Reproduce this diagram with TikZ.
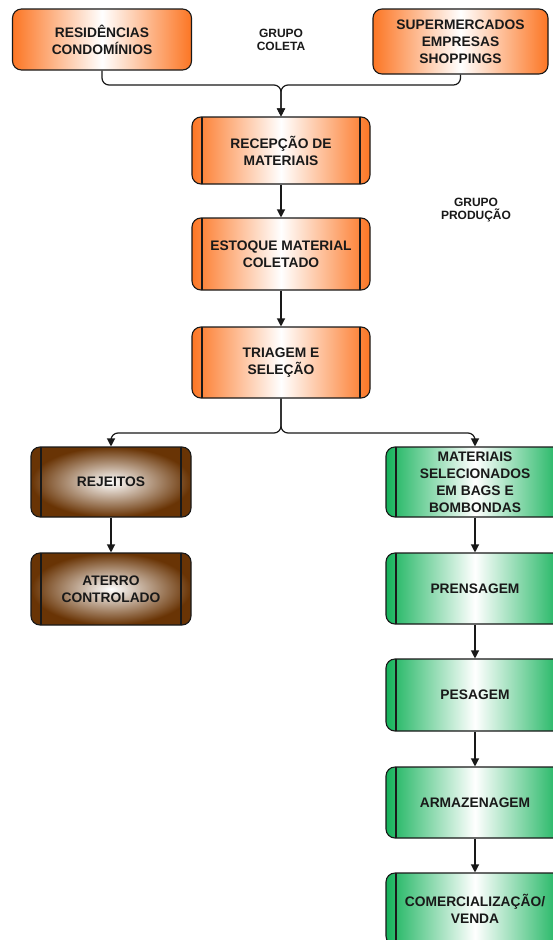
\documentclass[tikz,border=0pt]{standalone}
\usepackage{fontspec}
\setmainfont{Liberation Sans}
\usetikzlibrary{arrows.meta}
\definecolor{orng}{RGB}{252,118,36}
\definecolor{brn}{RGB}{105,52,5}
\definecolor{grn}{RGB}{20,178,90}
\definecolor{txt}{RGB}{25,25,25}
\tikzset{
  box/.style={draw=black!90, line width=1.1pt, rounded corners=9pt, inner sep=0pt,
    align=center, text=txt, font=\fontsize{13.8}{17}\selectfont\bfseries},
  orbox/.style={box, left color=orng, right color=orng, middle color=white},
  grbox/.style={box, left color=grn, right color=grn, middle color=white},
  brbox/.style={box, inner color=white, outer color=brn},
  bars/.style={path picture={
    \draw[line width=1.1pt, black!90] ([xshift=10pt]path picture bounding box.north west) -- ([xshift=10pt]path picture bounding box.south west);
    \draw[line width=1.1pt, black!90] ([xshift=-10pt]path picture bounding box.north east) -- ([xshift=-10pt]path picture bounding box.south east);}},
  conn/.style={line width=1.2pt, black!90, rounded corners=7pt},
  arr/.style={conn, -{Triangle[length=8pt,width=8pt]}},
  grp/.style={align=center, text=txt, font=\fontsize{12}{13.5}\selectfont\bfseries}
}
\begin{document}
\begin{tikzpicture}[x=1pt,y=-1pt]
\useasboundingbox (0,0) rectangle (553,940);
\node[orbox, minimum width=179pt, minimum height=61pt] (res) at (102,39.5) {RESIDÊNCIAS\\CONDOMÍNIOS};
\node[orbox, minimum width=175pt, minimum height=65pt] (sup) at (460.5,41.5) {SUPERMERCADOS\\EMPRESAS\\SHOPPINGS};
\node[grp] (gcol) at (281,40) {GRUPO\\COLETA};
\node[grp] (gprod) at (476,210) {GRUPO\\PRODUÇÃO};
\node[orbox, bars, minimum width=178pt, minimum height=67pt] (rec) at (281,150.5) {RECEPÇÃO DE\\MATERIAIS};
\node[orbox, bars, minimum width=178pt, minimum height=72pt] (est) at (281,254) {ESTOQUE MATERIAL\\COLETADO};
\node[orbox, bars, minimum width=178pt, minimum height=71pt] (tri) at (281,362.5) {TRIAGEM E\\SELEÇÃO};
\node[brbox, bars, minimum width=160pt, minimum height=70pt] (rej) at (111,482) {REJEITOS};
\node[brbox, bars, minimum width=160pt, minimum height=72pt] (ate) at (111,589) {ATERRO\\CONTROLADO};
\node[grbox, bars, minimum width=178pt, minimum height=70pt] (mat) at (475,482) {MATERIAIS\\SELECIONADOS\\EM BAGS E\\BOMBONDAS};
\node[grbox, bars, minimum width=178pt, minimum height=71pt] (pre) at (475,588.5) {PRENSAGEM};
\node[grbox, bars, minimum width=178pt, minimum height=72pt] (pes) at (475,695) {PESAGEM};
\node[grbox, bars, minimum width=178pt, minimum height=71pt] (arm) at (475,802.5) {ARMAZENAGEM};
\node[grbox, bars, minimum width=178pt, minimum height=72pt] (com) at (475,909) {COMERCIALIZAÇÃO/\\VENDA};
% connectors
\coordinate (j1) at (281,85);
\coordinate (j2) at (281,433);
\draw[arr] (res.south) |- (j1) -- (rec.north);
\draw[arr] (sup.south) |- (j1) -- (rec.north);
\draw[arr] (rec.south) -- (est.north);
\draw[arr] (est.south) -- (tri.north);
\draw[arr] (tri.south) -- (j2) -| (rej.north);
\draw[arr] (tri.south) -- (j2) -| (mat.north);
\draw[arr] (rej.south) -- (ate.north);
\draw[arr] (mat.south) -- (pre.north);
\draw[arr] (pre.south) -- (pes.north);
\draw[arr] (pes.south) -- (arm.north);
\draw[arr] (arm.south) -- (com.north);
\end{tikzpicture}
\end{document}
